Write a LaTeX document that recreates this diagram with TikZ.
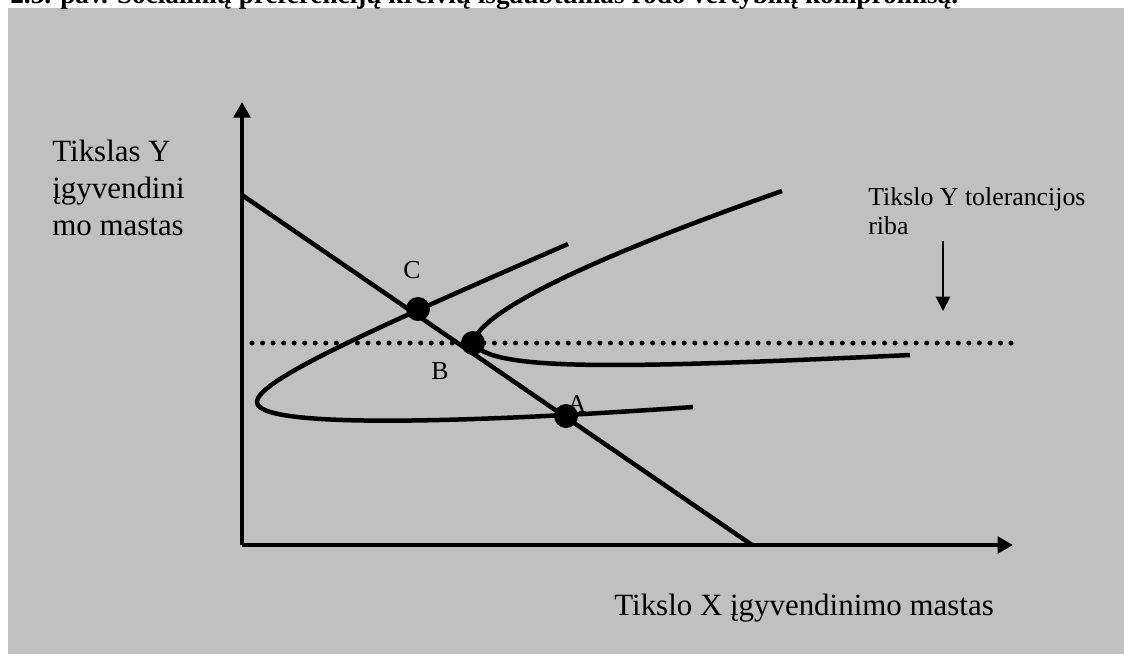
\documentclass[tikz,border=0pt]{standalone}
\usepackage{fontspec}
\setmainfont{Liberation Serif}
\usetikzlibrary{arrows.meta}
\definecolor{panelgray}{RGB}{192,192,192}
\tikzset{
  curve/.style={line width=0.09cm},
  axisarrow/.style={curve,-{Triangle[length=0.31cm,width=0.33cm]}},
  dot/.style={circle,fill,inner sep=0pt,minimum size=0.48cm},
  bigtext/.style={font=\fontsize{17.6}{20.9}\selectfont},
  smalltext/.style={font=\fontsize{14.7}{16.5}\selectfont}
}
\begin{document}
\begin{tikzpicture}[x=0.02cm,y=-0.02cm]
\useasboundingbox (0,0) rectangle (1124,654);
\fill[panelgray] (8,8) rectangle (1124,654);
\node (title) at (10,3) [anchor=base west,inner sep=0pt,font=\fontsize{15.5}{18}\selectfont\bfseries] {2.3. pav. Socialinių preferencijų kreivių išgaubtumas rodo vertybinį kompromisą.};
\coordinate (O) at (242,545);
\coordinate (ytop) at (242,102);
\coordinate (xend) at (1013,545);
\draw[axisarrow] (O) -- (ytop);
\draw[axisarrow] (O) -- (xend);
\node (ylabel) at (52,235) [anchor=base west,inner sep=0pt,align=left,bigtext] {Tikslas Y\\įgyvendini\\mo mastas};
\node (xlabel) at (614,615) [anchor=base west,inner sep=0pt,bigtext] {Tikslo X įgyvendinimo mastas};
\coordinate (b0) at (242,195);
\coordinate (b1) at (752,545);
\draw[curve] (b0) -- (b1);
\coordinate (t0) at (252,343);
\coordinate (t1) at (1012,343);
\draw[line width=0.1cm,line cap=round,dash pattern=on 0pt off 6pt] (t0) -- (t1);
\node (tol) at (868,234) [anchor=base west,inner sep=0pt,align=left,smalltext] {Tikslo Y tolerancijos\\riba};
\coordinate (a0) at (943,241);
\coordinate (a1) at (943,311);
\draw[line width=1pt,-{Triangle[length=0.29cm,width=0.29cm]}] (a0) -- (a1);
\coordinate (p1) at (568,244);
\coordinate (p2) at (257,402);
\coordinate (p3) at (693,407);
\draw[curve] (p1) .. controls (380,326) and (257,380) .. (p2) .. controls (257,430) and (480,422) .. (p3);
\coordinate (q1) at (782,191);
\coordinate (q2) at (473,343);
\coordinate (q3) at (910,355);
\draw[curve] (q1) .. controls (600,255) and (480,310) .. (q2) .. controls (492,371) and (610,369) .. (q3);
\node (labC) at (412,278) [anchor=base,inner sep=0pt,smalltext] {C};
\node (labB) at (440,379) [anchor=base,inner sep=0pt,smalltext] {B};
\node (labA) at (577,412) [anchor=base,inner sep=0pt,smalltext] {A};
\node (C) at (418,309) [dot] {};
\node (B) at (473,343) [dot] {};
\node (A) at (566,416) [dot] {};
\end{tikzpicture}
\end{document}
